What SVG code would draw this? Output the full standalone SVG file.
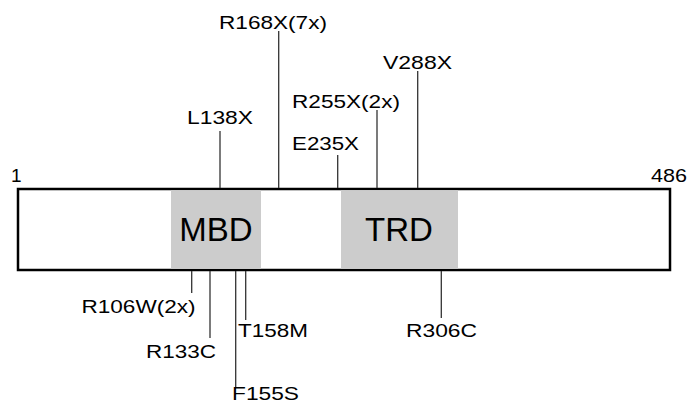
<svg xmlns="http://www.w3.org/2000/svg" width="688" height="405" viewBox="0 0 688 405">
<style>
.lbl{font-family:"Liberation Sans",Arial,sans-serif;font-size:19px;fill:#000}
.dom{font-family:"Liberation Sans",Arial,sans-serif;font-size:33px;fill:#000}
.con line{stroke:#333;stroke-width:1.3}
</style>
<rect width="688" height="405" fill="#fff"/>
<g id="protein">
<rect x="18" y="189" width="652" height="81" fill="#fff" stroke="#000" stroke-width="2.5"/>
<text class="lbl" x="11" y="182">1</text>
<text class="lbl" x="651" y="182" textLength="36" lengthAdjust="spacingAndGlyphs">486</text>
</g>
<g id="MBD">
<rect x="171" y="190.3" width="90" height="78.5" fill="#ccc"/>
<text class="dom" x="216" y="241" text-anchor="middle">MBD</text>
</g>
<g id="TRD">
<rect x="341" y="190.3" width="117" height="78.5" fill="#ccc"/>
<text class="dom" x="399" y="241" text-anchor="middle">TRD</text>
</g>
<g id="connectors" class="con">
<line x1="220" y1="131" x2="220" y2="188"/>
<line x1="278.7" y1="31" x2="278.7" y2="188"/>
<line x1="337.7" y1="155" x2="337.7" y2="188"/>
<line x1="377" y1="110" x2="377" y2="188"/>
<line x1="417.7" y1="71" x2="417.7" y2="188"/>
<line x1="191.7" y1="271" x2="191.7" y2="293"/>
<line x1="210" y1="271" x2="210" y2="338"/>
<line x1="235.7" y1="271" x2="235.7" y2="387"/>
<line x1="245.7" y1="271" x2="245.7" y2="320"/>
<line x1="441.3" y1="271" x2="441.3" y2="318"/>
</g>
<g id="L138X"><text class="lbl" x="187" y="124" textLength="66" lengthAdjust="spacingAndGlyphs">L138X</text></g>
<g id="R168X"><text class="lbl" x="219" y="29" textLength="108" lengthAdjust="spacingAndGlyphs">R168X(7x)</text></g>
<g id="V288X"><text class="lbl" x="383" y="69" textLength="69" lengthAdjust="spacingAndGlyphs">V288X</text></g>
<g id="R255X"><text class="lbl" x="292" y="108" textLength="108" lengthAdjust="spacingAndGlyphs">R255X(2x)</text></g>
<g id="E235X"><text class="lbl" x="292" y="150" textLength="67" lengthAdjust="spacingAndGlyphs">E235X</text></g>
<g id="R106W"><text class="lbl" x="81.5" y="313" textLength="114" lengthAdjust="spacingAndGlyphs">R106W(2x)</text></g>
<g id="R133C"><text class="lbl" x="146" y="358" textLength="70" lengthAdjust="spacingAndGlyphs">R133C</text></g>
<g id="T158M"><text class="lbl" x="238" y="337" textLength="70" lengthAdjust="spacingAndGlyphs">T158M</text></g>
<g id="F155S"><text class="lbl" x="232" y="400" textLength="67" lengthAdjust="spacingAndGlyphs">F155S</text></g>
<g id="R306C"><text class="lbl" x="406" y="337" textLength="71" lengthAdjust="spacingAndGlyphs">R306C</text></g>
</svg>
